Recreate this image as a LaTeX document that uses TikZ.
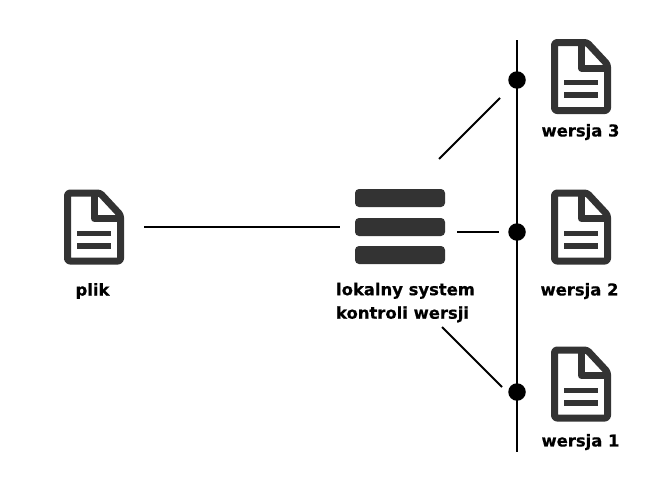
\documentclass[tikz,border=0pt]{standalone}
\usepackage{fontspec}
\setmainfont[BoldFeatures={FakeBold=0.5}]{DejaVu Sans}
\definecolor{ink}{HTML}{333333}
\tikzset{
  lbl/.style={font=\bfseries\fontsize{16.4}{23.5}\selectfont, text=black, inner sep=0pt, align=left},
  conn/.style={draw=black, line width=1.9pt},
  bar/.style={fill=ink, rounded corners=4pt, draw=none},
  dot/.style={circle, fill=black, minimum size=17.5pt, inner sep=0pt},
  docicon/.pic={
    \draw[ink, line width=7pt, line join=round, rounded corners=2.5pt]
      (-26.5,-34) -- (6,-34) -- (26.5,-12) -- (26.5,34) -- (-26.5,34) -- cycle;
    \draw[ink, line width=7pt, line join=round] (0.5,-34) -- (0.5,-8.5) -- (26.5,-8.5);
    \fill[ink] (-17,3.5) rectangle (17,8.5);
    \fill[ink] (-17,15.5) rectangle (17,21.5);
  }
}
\begin{document}
\begin{tikzpicture}[x=1pt,y=-1pt]
\useasboundingbox (0,0) rectangle (671,485);
\fill[white] (0,0) rectangle (671,485);
% icons
\pic at (94,227) {docicon};
\pic at (581,76.5) {docicon};
\pic at (581,227) {docicon};
\pic at (581,384) {docicon};
% server bars
\path[bar] (355,189) rectangle (445,207);
\path[bar] (355,218) rectangle (445,236);
\path[bar] (355,246) rectangle (445,264);
% labels
\node[lbl] (plik) at (92.5,291) {plik};
\node[lbl] (sys) at (405.5,302.5) {lokalny system\\kontroli wersji};
\node[lbl] (w3) at (580.5,132) {wersja 3};
\node[lbl] (w2) at (579.5,291) {wersja 2};
\node[lbl] (w1) at (580.5,442) {wersja 1};
% timeline
\coordinate (top) at (517,40);
\coordinate (bottom) at (517,452);
\draw[conn] (top) -- (bottom);
\node[dot] (d3) at (517,80) {};
\node[dot] (d2) at (517,232) {};
\node[dot] (d1) at (517,392) {};
% connectors
\coordinate (a1) at (144,227);
\coordinate (a2) at (340,227);
\coordinate (b1) at (457,232);
\coordinate (b2) at (499,232);
\coordinate (c1) at (439,159);
\coordinate (c2) at (500,98);
\coordinate (e1) at (442,327);
\coordinate (e2) at (502,387);
\draw[conn] (a1) -- (a2);
\draw[conn] (b1) -- (b2);
\draw[conn] (c1) -- (c2);
\draw[conn] (e1) -- (e2);
\end{tikzpicture}
\end{document}
